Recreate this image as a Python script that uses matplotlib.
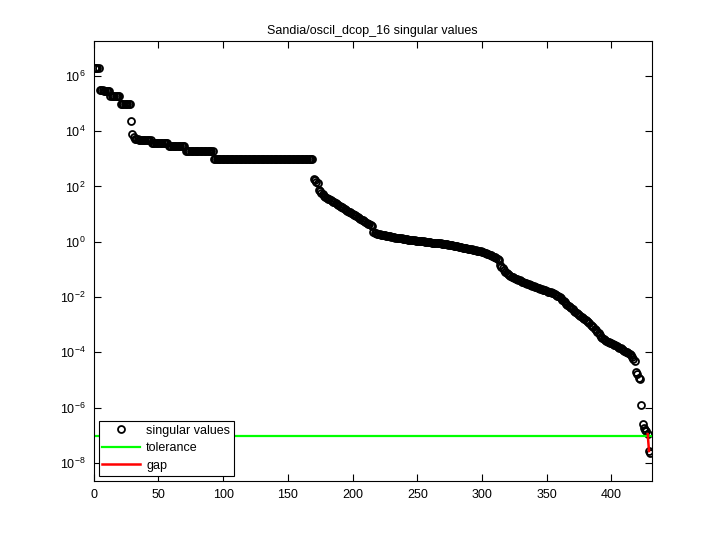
import numpy as np
import matplotlib
matplotlib.use('Agg')
import matplotlib.pyplot as plt

# log10 of the singular values (index 1..430)
log10_sv = [
    6.30, 6.30, 6.29, 6.29,
    5.48, 5.48, 5.48, 5.47, 5.47, 5.47, 5.47, 5.46,
    5.29, 5.29, 5.29, 5.28, 5.28, 5.28, 5.28, 5.28,
    5.00, 5.00, 5.00, 4.99, 4.99, 4.99, 4.99, 4.99,
    4.38, 3.90, 3.78,
    3.70, 3.70, 3.70, 3.69, 3.69, 3.69, 3.69, 3.69, 3.69, 3.69, 3.69, 3.68, 3.68,
    3.57, 3.57, 3.57, 3.57, 3.57, 3.57, 3.57, 3.57, 3.57, 3.57, 3.56, 3.56, 3.56,
    3.48, 3.48, 3.48, 3.48, 3.48, 3.48, 3.47, 3.47, 3.47, 3.47, 3.47, 3.47, 3.47,
    3.30, 3.30, 3.30, 3.30, 3.30, 3.30, 3.30, 3.30, 3.30, 3.30, 3.30,
    3.30, 3.30, 3.30, 3.30, 3.30, 3.30, 3.30, 3.29, 3.29, 3.29, 3.29,
    3.00, 3.00, 3.00, 3.00, 3.00, 3.00, 3.00, 3.00, 3.00, 3.00, 3.00,
    3.00, 3.00, 3.00, 3.00, 3.00, 3.00, 3.00, 3.00, 3.00, 3.00, 3.00,
    3.00, 3.00, 3.00, 3.00, 3.00, 3.00, 3.00, 3.00, 3.00, 3.00, 3.00,
    3.00, 3.00, 3.00, 3.00, 3.00, 3.00, 3.00, 3.00, 3.00, 3.00, 3.00,
    3.00, 3.00, 3.00, 3.00, 3.00, 3.00, 3.00, 3.00, 3.00, 3.00, 3.00,
    3.00, 3.00, 3.00, 3.00, 3.00, 3.00, 3.00, 3.00, 3.00, 3.00, 3.00,
    3.00, 3.00, 3.00, 3.00, 3.00, 3.00, 3.00, 3.00, 3.00, 3.00, 3.00,
    2.27, 2.24, 2.16, 2.13, 1.87, 1.84, 1.77, 1.72,
    1.64, 1.61, 1.58, 1.56, 1.53, 1.50, 1.47, 1.44, 1.42, 1.39,
    1.36, 1.33, 1.30, 1.27, 1.24, 1.21, 1.18, 1.15, 1.12, 1.09,
    1.06, 1.03, 1.01, 0.98, 0.95, 0.92, 0.89, 0.86, 0.83, 0.80,
    0.77, 0.74, 0.72, 0.69, 0.66, 0.63, 0.61, 0.58,
    0.34, 0.32, 0.31, 0.29, 0.28, 0.27, 0.26, 0.25, 0.24, 0.23, 0.22, 0.21, 0.20, 0.19, 0.18,
    0.17, 0.16, 0.15, 0.15, 0.14, 0.13, 0.12, 0.12, 0.11, 0.10, 0.10, 0.09, 0.08, 0.07,
    0.07, 0.06, 0.06, 0.05, 0.04, 0.04, 0.03, 0.03, 0.02, 0.01, 0.01, 0.00, 0.00, -0.01, -0.02,
    -0.02, -0.03, -0.03, -0.04, -0.04, -0.05, -0.05, -0.06, -0.06, -0.07, -0.08, -0.08,
    -0.09, -0.09, -0.10, -0.11,
    -0.12, -0.13, -0.14, -0.15, -0.16, -0.17, -0.18, -0.19, -0.20, -0.21, -0.22, -0.23,
    -0.24, -0.25, -0.26,
    -0.27, -0.28, -0.29, -0.30, -0.31, -0.32, -0.33, -0.34, -0.35, -0.36, -0.38, -0.39, -0.41,
    -0.43, -0.45, -0.47, -0.49, -0.51, -0.54, -0.56, -0.59,
    -0.62, -0.66, -0.85, -0.90, -0.96,
    -1.02, -1.08, -1.13, -1.17, -1.22,
    -1.24, -1.26, -1.28, -1.30, -1.33, -1.35, -1.37, -1.39, -1.41, -1.44,
    -1.46, -1.48, -1.50, -1.52, -1.54, -1.55, -1.57, -1.59, -1.61, -1.62, -1.64, -1.66, -1.68,
    -1.70, -1.71, -1.73, -1.75, -1.76, -1.78, -1.80, -1.81, -1.83, -1.85, -1.86,
    -1.89, -1.92, -1.95, -1.98, -2.01, -2.04,
    -2.09, -2.14, -2.19, -2.24, -2.29, -2.33, -2.37, -2.41,
    -2.45, -2.49, -2.53, -2.57, -2.61, -2.64,
    -2.68, -2.72, -2.76, -2.79, -2.83, -2.86, -2.90,
    -2.95, -3.00, -3.04, -3.09, -3.14, -3.19,
    -3.25, -3.31, -3.37, -3.43, -3.49,
    -3.52, -3.55, -3.58, -3.61, -3.63, -3.65, -3.68, -3.70,
    -3.73, -3.75, -3.78, -3.80, -3.83, -3.85, -3.88, -3.91,
    -3.94, -3.97, -4.00, -4.03, -4.06, -4.09,
    -4.16, -4.24, -4.33,
    -4.72, -4.78, -4.92, -4.96,
    -5.89,
    -6.58, -6.72, -6.80, -6.86, -6.96,
    -7.57, -7.65,
]

tolerance = 9.8e-8
gap_index = 428          # last singular value above the tolerance
title = 'Sandia/oscil_dcop_16 singular values'

sv = 10.0 ** np.array(log10_sv)
idx = np.arange(1, len(sv) + 1)
n = len(sv)

plt.rcParams['font.family'] = ['Liberation Sans', 'DejaVu Sans']
plt.rcParams['font.size'] = 9

fig = plt.figure(figsize=(7.2, 5.4), dpi=100)
ax = fig.add_axes([0.13, 0.11, 0.775, 0.815])

ax.semilogy(idx, sv, 'o', mfc='none', mec='black', ms=5, mew=1.3,
            label='singular values')
ax.semilogy([0, n + 1], [tolerance, tolerance], color=(0, 1, 0), lw=1.6,
            label='tolerance')
ax.semilogy([gap_index, gap_index + 1], [sv[gap_index - 1], sv[gap_index]],
            color=(1, 0, 0), lw=1.8, label='gap')

ax.set_xlim(0, n + 1)
ax.set_ylim(10 ** -8.64, 10 ** 7.28)
ax.set_xticks(range(0, 401, 50))
ax.set_yticks([10.0 ** e for e in range(-8, 7, 2)])
ax.minorticks_off()
ax.tick_params(direction='in', top=True, right=True, length=5, width=0.8,
               labelsize=9, pad=6)
for s in ax.spines.values():
    s.set_linewidth(0.8)

ax.set_title(title, fontsize=9, pad=5)

leg = ax.legend(loc='lower left', fontsize=9, fancybox=False, framealpha=1,
                edgecolor='black', handlelength=3.0, handletextpad=0.5,
                labelspacing=0.45, borderaxespad=0.4, borderpad=0.3)
leg.get_frame().set_linewidth(0.8)

fig.savefig('out.png', dpi=100)
